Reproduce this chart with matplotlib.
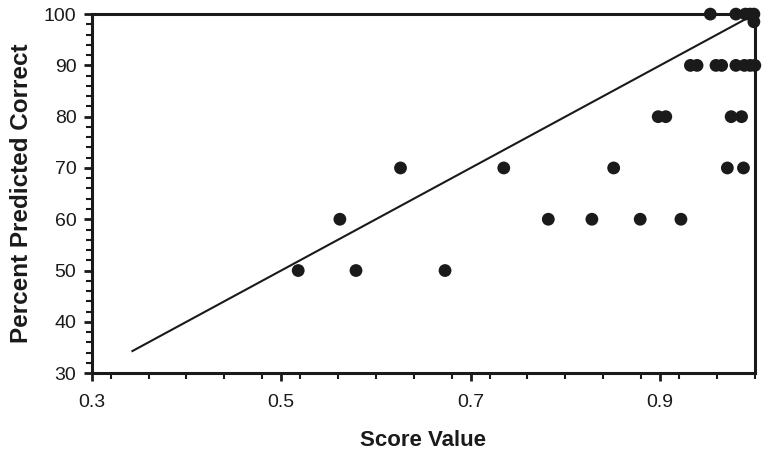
import matplotlib
matplotlib.use("Agg")
import matplotlib.pyplot as plt
from matplotlib.ticker import MultipleLocator

plt.rcParams['font.family'] = ['Liberation Sans', 'DejaVu Sans']

# score value vs percent predicted correct
score = [0.518, 0.579, 0.673,
         0.562, 0.782, 0.828, 0.879, 0.922,
         0.626, 0.735, 0.851, 0.971, 0.988,
         0.898, 0.906, 0.975, 0.986,
         0.932, 0.939, 0.959, 0.965, 0.980, 0.989, 0.995, 1.0,
         0.953, 0.980, 0.990, 0.995, 0.999, 0.999]
percent = [50, 50, 50,
           60, 60, 60, 60, 60,
           70, 70, 70, 70, 70,
           80, 80, 80, 80,
           90, 90, 90, 90, 90, 90, 90, 90,
           100, 100, 100, 100, 100, 98.5]

# identity reference line (score * 100)
line_x = [0.343, 1.0]
line_y = [v * 100 for v in line_x]

fig = plt.figure(figsize=(7.64, 4.55), dpi=100)
ax = fig.add_axes([0.120, 0.180, 0.868, 0.789])

ax.plot(line_x, line_y, color='#1a1a1a', lw=1.5)
ax.scatter(score, percent, s=85, color='#1a1a1a', zorder=3, clip_on=False,
           edgecolors='none')

ax.set_xlim(0.3, 1.0)
ax.set_ylim(30, 100)
ax.xaxis.set_major_locator(MultipleLocator(0.2))
ax.xaxis.set_minor_locator(MultipleLocator(0.04))
ax.yaxis.set_major_locator(MultipleLocator(10))
ax.yaxis.set_minor_locator(MultipleLocator(2))
ax.set_xticks([0.3, 0.5, 0.7, 0.9])
ax.set_xticklabels(['0.3', '0.5', '0.7', '0.9'])

for s in ax.spines.values():
    s.set_linewidth(2.2)
    s.set_color('#1a1a1a')

ax.tick_params(which='major', direction='out', length=6, width=2, labelsize=14,
               colors='#1a1a1a', pad=5)
ax.tick_params(axis='x', which='major', pad=9)
ax.tick_params(which='minor', direction='out', length=4, width=1.5,
               colors='#1a1a1a')

ax.set_xlabel('Score Value', fontsize=16, fontweight='bold', labelpad=14,
              color='#1a1a1a')
ax.set_ylabel('Percent Predicted Correct', fontsize=17.5, fontweight='bold',
              labelpad=8, color='#1a1a1a')

fig.savefig('out.png', dpi=100)
